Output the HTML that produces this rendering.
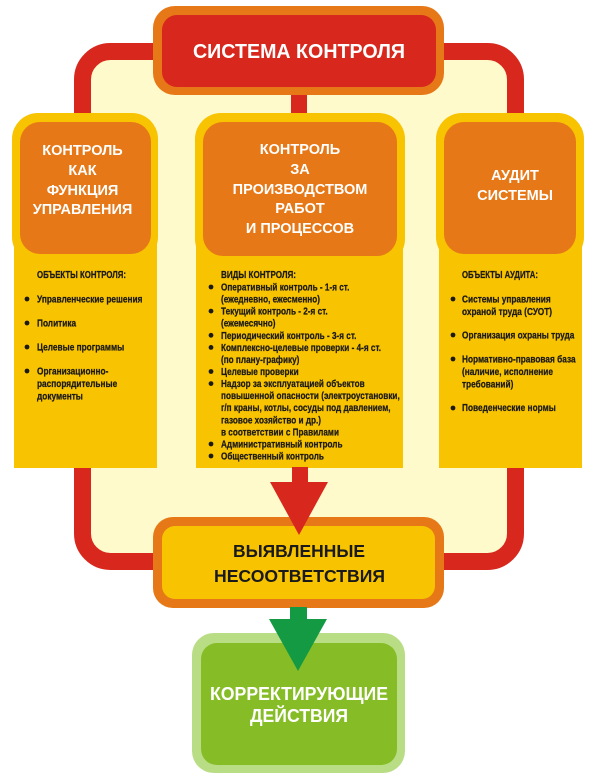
<!DOCTYPE html>
<html>
<head>
<meta charset="utf-8">
<style>
html,body{margin:0;padding:0;background:#fff;}
svg{display:block;}
text{font-family:"Liberation Sans","DejaVu Sans",sans-serif;font-weight:bold;}
.h{fill:#fff;font-size:14.5px;text-anchor:middle;}
.b{fill:#1c1a16;font-size:10.5px;stroke:#1c1a16;stroke-width:0.25;}
</style>
</head>
<body>
<svg width="600" height="783" viewBox="0 0 600 783" xmlns="http://www.w3.org/2000/svg">
  <!-- red frame with pale fill -->
  <rect x="82.5" y="51.5" width="433" height="510" rx="28" ry="28" fill="#FFFACB" stroke="#D8271D" stroke-width="17"/>

  <!-- top stem -->
  <rect x="291" y="94" width="16" height="20" fill="#D8271D"/>

  <!-- top box -->
  <rect x="153" y="6" width="291" height="89" rx="22" fill="#E67817"/>
  <rect x="162" y="15" width="274" height="72" rx="15" fill="#D8271D"/>
  <text x="193" y="58" font-size="20" fill="#fff" textLength="212" lengthAdjust="spacingAndGlyphs">СИСТЕМА КОНТРОЛЯ</text>

  <!-- left column -->
  <rect x="12" y="113" width="146" height="150" rx="26" fill="#F8C300"/>
  <rect x="14" y="240" width="143" height="228" fill="#F8C300"/>
  <rect x="20" y="122" width="131" height="132" rx="20" fill="#E67817"/>
  <text class="h" x="82.5" y="155">КОНТРОЛЬ</text>
  <text class="h" x="82.5" y="175">КАК</text>
  <text class="h" x="82.5" y="195">ФУНКЦИЯ</text>
  <text class="h" x="82.5" y="214">УПРАВЛЕНИЯ</text>

  <!-- center column -->
  <rect x="195" y="113" width="210" height="152" rx="26" fill="#F8C300"/>
  <rect x="196" y="240" width="207" height="228" fill="#F8C300"/>
  <rect x="203" y="122" width="194" height="134" rx="20" fill="#E67817"/>
  <text class="h" x="300" y="154">КОНТРОЛЬ</text>
  <text class="h" x="300" y="174">ЗА</text>
  <text class="h" x="300" y="194">ПРОИЗВОДСТВОМ</text>
  <text class="h" x="300" y="213">РАБОТ</text>
  <text class="h" x="300" y="233">И ПРОЦЕССОВ</text>

  <!-- right column -->
  <rect x="436" y="113" width="148" height="150" rx="26" fill="#F8C300"/>
  <rect x="439" y="240" width="143" height="228" fill="#F8C300"/>
  <rect x="444" y="122" width="132" height="132" rx="20" fill="#E67817"/>
  <text class="h" x="515" y="180">АУДИТ</text>
  <text class="h" x="515" y="200">СИСТЕМЫ</text>

  <!-- left body text -->
  <text class="b" x="37" y="278" textLength="89" lengthAdjust="spacingAndGlyphs">ОБЪЕКТЫ КОНТРОЛЯ:</text>
  <g fill="#1c1a16">
    <circle cx="27" cy="299" r="2.4"/>
    <circle cx="27" cy="323" r="2.4"/>
    <circle cx="27" cy="347" r="2.4"/>
    <circle cx="27" cy="371" r="2.4"/>
  </g>
  <g transform="translate(37,0) scale(0.79,1)">
    <text class="b" x="0" y="302.5">Управленческие решения</text>
    <text class="b" x="0" y="326.5">Политика</text>
    <text class="b" x="0" y="350.5">Целевые программы</text>
    <text class="b" x="0" y="374.5">Организационно-</text>
    <text class="b" x="0" y="387">распорядительные</text>
    <text class="b" x="0" y="399.5">документы</text>
  </g>

  <!-- center body text -->
  <text class="b" x="221" y="278" textLength="75" lengthAdjust="spacingAndGlyphs">ВИДЫ КОНТРОЛЯ:</text>
  <g fill="#1c1a16">
    <circle cx="211" cy="287" r="2.4"/>
    <circle cx="211" cy="311.1" r="2.4"/>
    <circle cx="211" cy="335.3" r="2.4"/>
    <circle cx="211" cy="347.4" r="2.4"/>
    <circle cx="211" cy="371.5" r="2.4"/>
    <circle cx="211" cy="383.6" r="2.4"/>
    <circle cx="211" cy="444" r="2.4"/>
    <circle cx="211" cy="456" r="2.4"/>
  </g>
  <g transform="translate(221,0) scale(0.78,1)">
    <text class="b" x="0" y="290.5">Оперативный контроль - 1-я ст.</text>
    <text class="b" x="0" y="302.6">(ежедневно, ежесменно)</text>
    <text class="b" x="0" y="314.6">Текущий контроль - 2-я ст.</text>
    <text class="b" x="0" y="326.7">(ежемесячно)</text>
    <text class="b" x="0" y="338.8">Периодический контроль - 3-я ст.</text>
    <text class="b" x="0" y="350.9">Комплексно-целевые проверки - 4-я ст.</text>
    <text class="b" x="0" y="362.9">(по плану-графику)</text>
    <text class="b" x="0" y="375">Целевые проверки</text>
    <text class="b" x="0" y="387.1">Надзор за эксплуатацией объектов</text>
    <text class="b" x="0" y="399.1">повышенной опасности (электроустановки,</text>
    <text class="b" x="0" y="411.2">г/п краны, котлы, сосуды под давлением,</text>
    <text class="b" x="0" y="423.3">газовое хозяйство и др.)</text>
    <text class="b" x="0" y="435.3">в соответствии с Правилами</text>
    <text class="b" x="0" y="447.4">Административный контроль</text>
    <text class="b" x="0" y="459.5">Общественный контроль</text>
  </g>

  <!-- right body text -->
  <text class="b" x="462" y="278" textLength="76" lengthAdjust="spacingAndGlyphs">ОБЪЕКТЫ АУДИТА:</text>
  <g fill="#1c1a16">
    <circle cx="453" cy="299" r="2.4"/>
    <circle cx="453" cy="335" r="2.4"/>
    <circle cx="453" cy="359" r="2.4"/>
    <circle cx="453" cy="408" r="2.4"/>
  </g>
  <g transform="translate(462,0) scale(0.79,1)">
    <text class="b" x="0" y="302.5">Системы управления</text>
    <text class="b" x="0" y="315.2">охраной труда (СУОТ)</text>
    <text class="b" x="0" y="338.5">Организация охраны труда</text>
    <text class="b" x="0" y="362.5">Нормативно-правовая база</text>
    <text class="b" x="0" y="375.2">(наличие, исполнение</text>
    <text class="b" x="0" y="387.5">требований)</text>
    <text class="b" x="0" y="411.2">Поведенческие нормы</text>
  </g>

  <!-- lower box -->
  <rect x="153" y="517" width="291" height="91" rx="20" fill="#E67817"/>
  <rect x="162" y="526" width="273" height="73" rx="13" fill="#F8C300"/>
  <text x="233" y="557" font-size="17.5" fill="#1a1a1a" textLength="132" lengthAdjust="spacingAndGlyphs">ВЫЯВЛЕННЫЕ</text>
  <text x="214" y="582" font-size="17.5" fill="#1a1a1a" textLength="171" lengthAdjust="spacingAndGlyphs">НЕСООТВЕТСТВИЯ</text>

  <!-- red arrow -->
  <rect x="292" y="467" width="16" height="16" fill="#D8271D"/>
  <polygon points="270,482 328,482 299,535" fill="#D8271D"/>

  <!-- green box -->
  <rect x="192" y="633" width="213" height="140" rx="22" fill="#B8DD84"/>
  <rect x="201" y="643" width="196" height="122" rx="16" fill="#86BD27"/>
  <text x="210" y="700" font-size="18" fill="#fff" textLength="178" lengthAdjust="spacingAndGlyphs">КОРРЕКТИРУЮЩИЕ</text>
  <text x="250" y="722" font-size="18" fill="#fff" textLength="98" lengthAdjust="spacingAndGlyphs">ДЕЙСТВИЯ</text>

  <!-- green arrow -->
  <rect x="290" y="607" width="17" height="13" fill="#139A43"/>
  <polygon points="269,619 327,619 298,671" fill="#139A43"/>
</svg>
</body>
</html>
